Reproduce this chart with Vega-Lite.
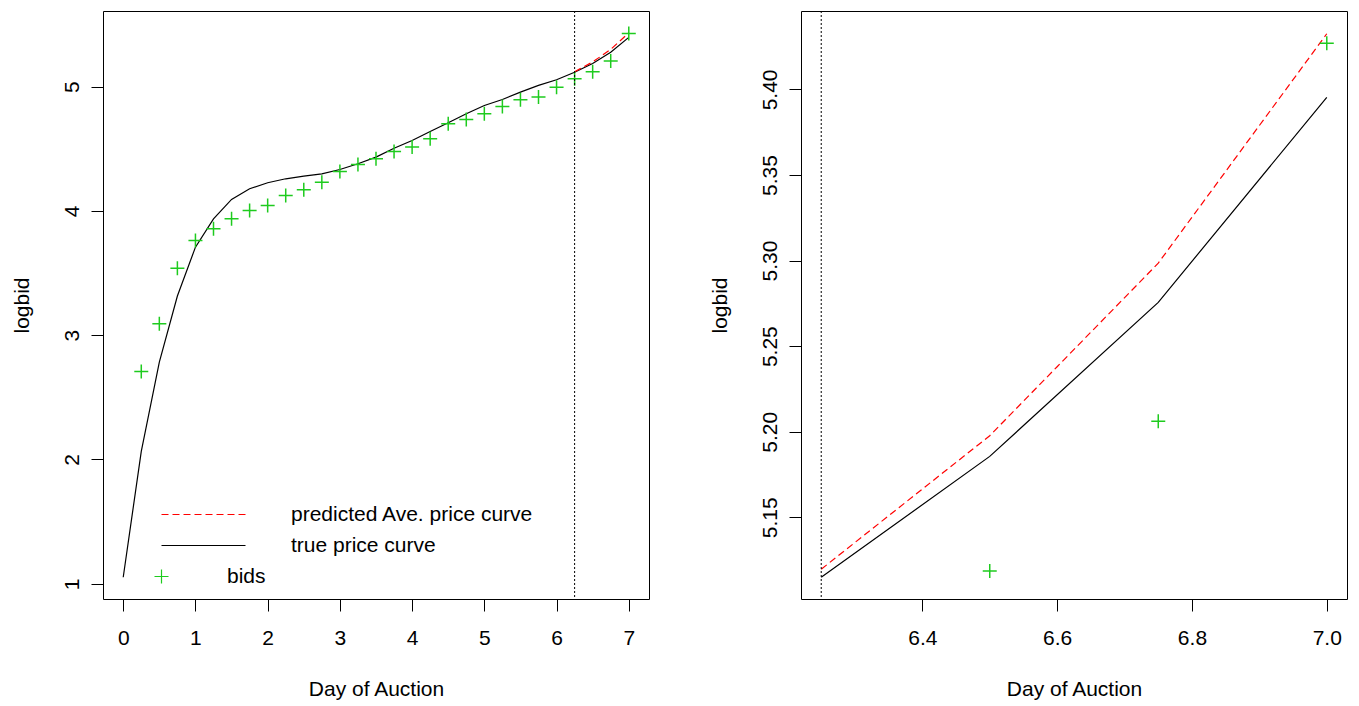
{
  "$schema": "https://vega.github.io/schema/vega-lite/v6.json",
  "padding": {"left": 10, "top": 10, "right": 10, "bottom": 5},
  "background": "white",
  "bounds": "flush",
  "spacing": 152,
  "resolve": {"scale": {"color": "independent"}},
  "datasets": {
    "curves": [
      {"day": 0, "logbid": 1.053, "series": "true price curve"},
      {"day": 0.25, "logbid": 2.065, "series": "true price curve"},
      {"day": 0.5, "logbid": 2.783, "series": "true price curve"},
      {"day": 0.75, "logbid": 3.315, "series": "true price curve"},
      {"day": 1, "logbid": 3.708, "series": "true price curve"},
      {"day": 1.25, "logbid": 3.936, "series": "true price curve"},
      {"day": 1.5, "logbid": 4.092, "series": "true price curve"},
      {"day": 1.75, "logbid": 4.178, "series": "true price curve"},
      {"day": 2, "logbid": 4.226, "series": "true price curve"},
      {"day": 2.25, "logbid": 4.258, "series": "true price curve"},
      {"day": 2.5, "logbid": 4.279, "series": "true price curve"},
      {"day": 2.75, "logbid": 4.298, "series": "true price curve"},
      {"day": 3, "logbid": 4.333, "series": "true price curve"},
      {"day": 3.25, "logbid": 4.379, "series": "true price curve"},
      {"day": 3.5, "logbid": 4.432, "series": "true price curve"},
      {"day": 3.75, "logbid": 4.504, "series": "true price curve"},
      {"day": 4, "logbid": 4.566, "series": "true price curve"},
      {"day": 4.25, "logbid": 4.639, "series": "true price curve"},
      {"day": 4.5, "logbid": 4.709, "series": "true price curve"},
      {"day": 4.75, "logbid": 4.781, "series": "true price curve"},
      {"day": 5, "logbid": 4.848, "series": "true price curve"},
      {"day": 5.25, "logbid": 4.896, "series": "true price curve"},
      {"day": 5.5, "logbid": 4.955, "series": "true price curve"},
      {"day": 5.75, "logbid": 5.009, "series": "true price curve"},
      {"day": 6, "logbid": 5.055, "series": "true price curve"},
      {"day": 6.25, "logbid": 5.115, "series": "true price curve"},
      {"day": 6.5, "logbid": 5.1856, "series": "true price curve"},
      {"day": 6.75, "logbid": 5.2756, "series": "true price curve"},
      {"day": 7, "logbid": 5.3954, "series": "true price curve"},
      {"day": 6.25, "logbid": 5.1197, "series": "predicted Ave. price curve"},
      {"day": 6.5, "logbid": 5.1977, "series": "predicted Ave. price curve"},
      {"day": 6.6, "logbid": 5.238, "series": "predicted Ave. price curve"},
      {"day": 6.75, "logbid": 5.2985, "series": "predicted Ave. price curve"},
      {"day": 7, "logbid": 5.4325, "series": "predicted Ave. price curve"},
      {"day": 0.25, "logbid": 2.708, "series": "bids"},
      {"day": 0.5, "logbid": 3.092, "series": "bids"},
      {"day": 0.75, "logbid": 3.539, "series": "bids"},
      {"day": 1, "logbid": 3.762, "series": "bids"},
      {"day": 1.25, "logbid": 3.856, "series": "bids"},
      {"day": 1.5, "logbid": 3.936, "series": "bids"},
      {"day": 1.75, "logbid": 4.003, "series": "bids"},
      {"day": 2, "logbid": 4.043, "series": "bids"},
      {"day": 2.25, "logbid": 4.124, "series": "bids"},
      {"day": 2.5, "logbid": 4.17, "series": "bids"},
      {"day": 2.75, "logbid": 4.231, "series": "bids"},
      {"day": 3, "logbid": 4.317, "series": "bids"},
      {"day": 3.25, "logbid": 4.373, "series": "bids"},
      {"day": 3.5, "logbid": 4.419, "series": "bids"},
      {"day": 3.75, "logbid": 4.478, "series": "bids"},
      {"day": 4, "logbid": 4.513, "series": "bids"},
      {"day": 4.25, "logbid": 4.58, "series": "bids"},
      {"day": 4.5, "logbid": 4.701, "series": "bids"},
      {"day": 4.75, "logbid": 4.735, "series": "bids"},
      {"day": 5, "logbid": 4.781, "series": "bids"},
      {"day": 5.25, "logbid": 4.84, "series": "bids"},
      {"day": 5.5, "logbid": 4.894, "series": "bids"},
      {"day": 5.75, "logbid": 4.915, "series": "bids"},
      {"day": 6, "logbid": 4.995, "series": "bids"},
      {"day": 6.25, "logbid": 5.063, "series": "bids"},
      {"day": 6.5, "logbid": 5.1187, "series": "bids"},
      {"day": 6.75, "logbid": 5.2061, "series": "bids"},
      {"day": 7, "logbid": 5.427, "series": "bids"}
    ],
    "cut": [{"day": 6.25}]
  },
  "config": {
    "font": "Liberation Sans",
    "view": {"stroke": "black", "strokeWidth": 1},
    "axis": {
      "domain": false, "grid": false,
      "tickColor": "black", "tickSize": 12, "tickWidth": 1,
      "labelFont": "Liberation Sans", "labelFontSize": 21, "labelColor": "black",
      "labelOverlap": false, "labelFlush": false,
      "titleFont": "Liberation Sans", "titleFontSize": 21, "titleFontWeight": "normal", "titleColor": "black"
    },
    "axisX": {
      "labelBaseline": "alphabetic", "labelPadding": 33,
      "titleBaseline": "alphabetic", "titleAlign": "center", "titleX": 273, "titleY": 96
    },
    "axisY": {
      "labelAngle": 270, "labelAlign": "center", "labelBaseline": "alphabetic", "labelPadding": 13,
      "titleAngle": 270, "titleBaseline": "alphabetic", "titleAlign": "center", "titleX": -75, "titleY": 294
    }
  },
  "hconcat": [
    {
      "width": 546,
      "height": 588,
      "data": {"name": "curves"},
      "layer": [
        {
          "transform": [{"filter": "datum.series === 'true price curve'"}],
          "mark": {"type": "line", "strokeWidth": 1.2, "clip": true},
          "encoding": {
            "x": {"field": "day", "type": "quantitative", "title": "Day of Auction",
                  "scale": {"domain": [-0.28, 7.28], "nice": false, "zero": false},
                  "axis": {"values": [0, 1, 2, 3, 4, 5, 6, 7], "format": "d"}},
            "y": {"field": "logbid", "type": "quantitative", "title": "logbid",
                  "scale": {"domain": [0.8778, 5.6077], "nice": false, "zero": false},
                  "axis": {"values": [1, 2, 3, 4, 5], "format": "d"}},
            "color": {"field": "series", "type": "nominal",
                      "scale": {"domain": ["predicted Ave. price curve", "true price curve", "bids"],
                                "range": ["#FF0000", "#000000", "#1ECB1E"]},
                      "legend": {
                        "title": null, "orient": "none", "legendX": 53, "legendY": 493,
                        "symbolSize": 100, "symbolStrokeWidth": 1.2,
                        "labelFont": "Liberation Sans", "labelFontSize": 21, "labelColor": "black",
                        "labelOffset": 114, "rowPadding": 9, "labelLimit": 0,
                        "encode": {
                          "symbols": {"update": {
                            "shape": {"signal": "datum.value === 'bids' ? 'M-2.4,0L0.4,0M-1,-1.4L-1,1.4' : 'M-1,0L15.8,0'"},
                            "strokeDash": {"signal": "datum.value === 'predicted Ave. price curve' ? [7,4] : [1,0]"},
                            "stroke": {"signal": "datum.value === 'predicted Ave. price curve' ? '#FF0000' : (datum.value === 'bids' ? '#1ECB1E' : '#000000')"},
                            "fill": {"value": "transparent"},
                            "opacity": {"value": 1}
                          }},
                          "labels": {"update": {
                            "dx": {"signal": "datum.value === 'bids' ? -64 : 0"}
                          }}
                        }
                      }}
          }
        },
        {
          "transform": [{"filter": "datum.series === 'predicted Ave. price curve'"}],
          "mark": {"type": "line", "strokeWidth": 1.2, "strokeDash": [7, 4], "clip": true},
          "encoding": {
            "x": {"field": "day", "type": "quantitative"},
            "y": {"field": "logbid", "type": "quantitative"},
            "color": {"field": "series", "type": "nominal"}
          }
        },
        {
          "transform": [{"filter": "datum.series === 'bids'"}],
          "mark": {"type": "point", "shape": "M-1,0L1,0M0,-1L0,1", "size": 196, "filled": false, "strokeWidth": 1.5, "opacity": 1, "clip": true},
          "encoding": {
            "x": {"field": "day", "type": "quantitative"},
            "y": {"field": "logbid", "type": "quantitative"},
            "color": {"field": "series", "type": "nominal"}
          }
        },
        {
          "data": {"name": "cut"},
          "mark": {"type": "rule", "color": "black", "strokeWidth": 1, "strokeDash": [2, 2]},
          "encoding": {
            "x": {"field": "day", "type": "quantitative"}
          }
        }
      ]
    },
    {
      "width": 546,
      "height": 588,
      "data": {"name": "curves"},
      "transform": [{"filter": "datum.day >= 6.25"}],
      "layer": [
        {
          "transform": [{"filter": "datum.series === 'true price curve'"}],
          "mark": {"type": "line", "strokeWidth": 1.2, "color": "#000000", "clip": true},
          "encoding": {
            "x": {"field": "day", "type": "quantitative", "title": "Day of Auction",
                  "scale": {"domain": [6.22, 7.03], "nice": false, "zero": false},
                  "axis": {"values": [6.4, 6.6, 6.8, 7.0], "format": ".1f"}},
            "y": {"field": "logbid", "type": "quantitative", "title": "logbid",
                  "scale": {"domain": [5.1023, 5.4458], "nice": false, "zero": false},
                  "axis": {"values": [5.15, 5.2, 5.25, 5.3, 5.35, 5.4], "format": ".2f"}}
          }
        },
        {
          "transform": [{"filter": "datum.series === 'predicted Ave. price curve'"}],
          "mark": {"type": "line", "strokeWidth": 1.2, "color": "#FF0000", "strokeDash": [7, 4], "clip": true},
          "encoding": {
            "x": {"field": "day", "type": "quantitative"},
            "y": {"field": "logbid", "type": "quantitative"}
          }
        },
        {
          "transform": [{"filter": "datum.series === 'bids'"}],
          "mark": {"type": "point", "shape": "M-1,0L1,0M0,-1L0,1", "size": 196, "filled": false, "strokeWidth": 1.5, "color": "#1ECB1E", "opacity": 1, "clip": true},
          "encoding": {
            "x": {"field": "day", "type": "quantitative"},
            "y": {"field": "logbid", "type": "quantitative"}
          }
        },
        {
          "data": {"name": "cut"},
          "mark": {"type": "rule", "color": "black", "strokeWidth": 1, "strokeDash": [2, 2]},
          "encoding": {
            "x": {"field": "day", "type": "quantitative"}
          }
        }
      ]
    }
  ]
}
